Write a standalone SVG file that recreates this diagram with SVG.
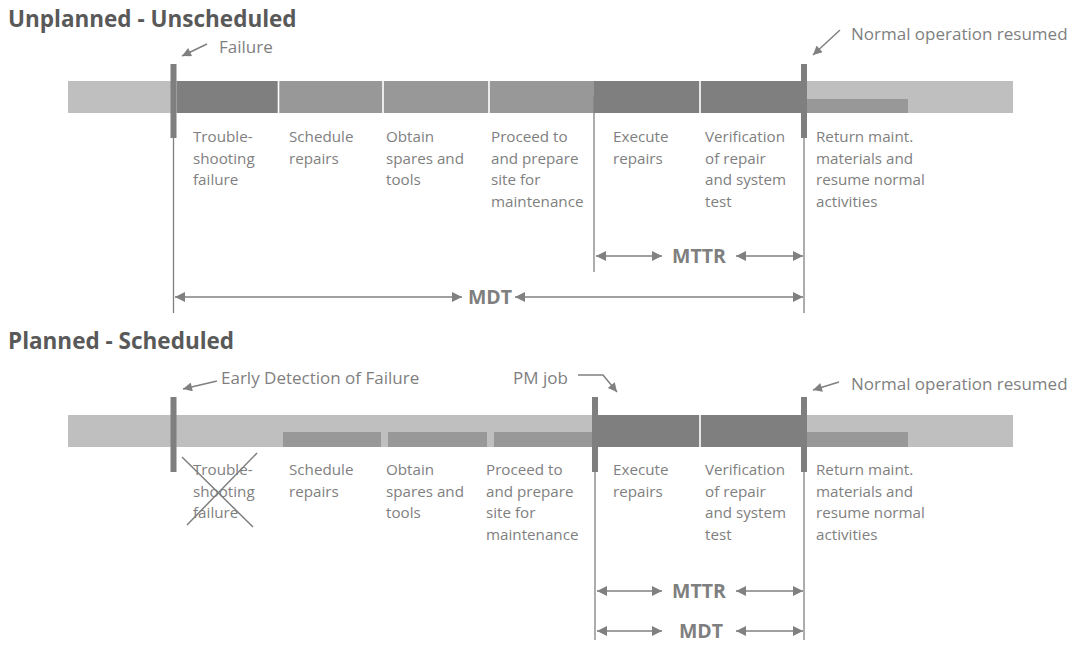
<svg xmlns="http://www.w3.org/2000/svg" width="1070" height="646" viewBox="0 0 1070 646">
  <defs>
    <marker id="head" viewBox="0 0 10 10" refX="10" refY="5" markerUnits="userSpaceOnUse" markerWidth="11" markerHeight="10" orient="auto-start-reverse">
      <path d="M0,0 L10,5 L0,10 z" fill="#808080"/>
    </marker>
    <marker id="pointer" viewBox="0 0 10 10" refX="10" refY="5" markerUnits="userSpaceOnUse" markerWidth="10" markerHeight="9" orient="auto">
      <path d="M0,0 L10,5 L0,10 z" fill="#808080"/>
    </marker>
  </defs>
  <style>
    .title { font-family: "Open Sans", "Liberation Sans", sans-serif; font-weight: bold; font-size: 22.5px; fill: #595959; }
    .lbl { font-family: "Open Sans", "Liberation Sans", sans-serif; font-size: 15.2px; fill: #7f7f7f; }
    .note { font-family: "Open Sans", "Liberation Sans", sans-serif; font-size: 17px; fill: #7f7f7f; }
    .dim { font-family: "Open Sans", "Liberation Sans", sans-serif; font-weight: bold; font-size: 19.5px; fill: #7f7f7f; text-anchor: middle; }
    .base { fill: #bfbfbf; }
    .mid { fill: #989898; }
    .dark { fill: #7f7f7f; }
    .gap { stroke: #ffffff; stroke-width: 1.6; }
    .tick { fill: #7f7f7f; }
    .ext { stroke: #808080; stroke-width: 1.3; fill: none; }
    .dimline { stroke: #808080; stroke-width: 1.5; fill: none; marker-start: url(#head); marker-end: url(#head); }
    .ptr { stroke: #808080; stroke-width: 1.5; fill: none; marker-end: url(#pointer); }
    .cross { stroke: #7f7f7f; stroke-width: 1.5; }
  </style>
  <rect width="1070" height="646" fill="#ffffff"/>

  <!-- ===== Unplanned - Unscheduled ===== -->
  <text class="title" x="8" y="27">Unplanned - Unscheduled</text>

  <g id="u-timeline">
    <rect class="base" x="68" y="81" width="945" height="32"/>
    <rect class="dark" x="177" y="81" width="101" height="32"/>
    <rect class="mid" x="278" y="81" width="316" height="32"/>
    <rect class="dark" x="594" y="81" width="207" height="32"/>
    <rect class="mid" x="807" y="99" width="101" height="14"/>
    <line class="gap" x1="278.5" y1="81" x2="278.5" y2="113"/>
    <line class="gap" x1="383" y1="81" x2="383" y2="113"/>
    <line class="gap" x1="489" y1="81" x2="489" y2="113"/>
    <line class="gap" x1="700" y1="81" x2="700" y2="113"/>
  </g>

  <g id="u-failure">
    <rect class="tick" x="170.5" y="64" width="6" height="74"/>
    <text class="note" x="219" y="53">Failure</text>
  </g>
  <g id="u-resumed">
    <rect class="tick" x="801" y="64" width="6" height="74"/>
    <text class="note" x="851" y="40">Normal operation resumed</text>
  </g>

  <g id="u-troubleshoot"><text class="lbl" x="193" y="142">Trouble-<tspan x="193" dy="21.5">shooting</tspan><tspan x="193" dy="21.5">failure</tspan></text></g>
  <g id="u-schedule"><text class="lbl" x="289" y="142">Schedule<tspan x="289" dy="21.5">repairs</tspan></text></g>
  <g id="u-obtain"><text class="lbl" x="386" y="142">Obtain<tspan x="386" dy="21.5">spares and</tspan><tspan x="386" dy="21.5">tools</tspan></text></g>
  <g id="u-proceed"><text class="lbl" x="491" y="142">Proceed to<tspan x="491" dy="21.5">and prepare</tspan><tspan x="491" dy="21.5">site for</tspan><tspan x="491" dy="21.5">maintenance</tspan></text></g>
  <g id="u-execute"><text class="lbl" x="613" y="142">Execute<tspan x="613" dy="21.5">repairs</tspan></text></g>
  <g id="u-verify"><text class="lbl" x="705" y="142">Verification<tspan x="705" dy="21.5">of repair</tspan><tspan x="705" dy="21.5">and system</tspan><tspan x="705" dy="21.5">test</tspan></text></g>
  <g id="u-return"><text class="lbl" x="816" y="142">Return maint.<tspan x="816" dy="21.5">materials and</tspan><tspan x="816" dy="21.5">resume normal</tspan><tspan x="816" dy="21.5">activities</tspan></text></g>

  <g id="u-mttr"><text class="dim" x="699" y="263">MTTR</text></g>
  <g id="u-mdt"><text class="dim" x="490" y="304">MDT</text></g>

  <g id="u-connectors">
    <line class="ptr" x1="207" y1="44" x2="182" y2="56"/>
    <line class="ptr" x1="840" y1="30" x2="813" y2="55"/>
    <line class="ext" x1="173.5" y1="138" x2="173.5" y2="313"/>
    <line class="ext" x1="594" y1="96" x2="594" y2="272"/>
    <line class="ext" x1="804" y1="138" x2="804" y2="313"/>
    <line class="dimline" x1="596" y1="256" x2="662" y2="256"/>
    <line class="dimline" x1="736" y1="256" x2="803" y2="256"/>
    <line class="dimline" x1="175" y1="297" x2="462" y2="297"/>
    <line class="dimline" x1="515" y1="297" x2="803" y2="297"/>
  </g>

  <!-- ===== Planned - Scheduled ===== -->
  <text class="title" x="8" y="349">Planned - Scheduled</text>

  <g id="p-timeline">
    <rect class="base" x="68" y="415" width="945" height="32"/>
    <rect class="mid" x="283" y="432" width="98" height="15"/>
    <rect class="mid" x="388" y="432" width="99" height="15"/>
    <rect class="mid" x="494" y="432" width="100" height="15"/>
    <rect class="dark" x="595" y="415" width="206" height="32"/>
    <rect class="mid" x="807" y="432" width="101" height="15"/>
    <line class="gap" x1="700" y1="415" x2="700" y2="447"/>
  </g>

  <g id="p-detection">
    <rect class="tick" x="170.5" y="397" width="6" height="75"/>
    <text class="note" x="221" y="384">Early Detection of Failure</text>
  </g>
  <g id="p-pmjob">
    <rect class="tick" x="592" y="397" width="6" height="75"/>
    <text class="note" x="513" y="384">PM job</text>
  </g>
  <g id="p-resumed">
    <rect class="tick" x="801" y="397" width="6" height="75"/>
    <text class="note" x="851" y="390">Normal operation resumed</text>
  </g>

  <g id="p-troubleshoot">
    <text class="lbl" x="193" y="475">Trouble-<tspan x="193" dy="21.5">shooting</tspan><tspan x="193" dy="21.5">failure</tspan></text>
    <line class="cross" x1="182" y1="457" x2="253" y2="527"/>
    <line class="cross" x1="257" y1="453" x2="187" y2="525"/>
  </g>
  <g id="p-schedule"><text class="lbl" x="289" y="475">Schedule<tspan x="289" dy="21.5">repairs</tspan></text></g>
  <g id="p-obtain"><text class="lbl" x="386" y="475">Obtain<tspan x="386" dy="21.5">spares and</tspan><tspan x="386" dy="21.5">tools</tspan></text></g>
  <g id="p-proceed"><text class="lbl" x="486" y="475">Proceed to<tspan x="486" dy="21.5">and prepare</tspan><tspan x="486" dy="21.5">site for</tspan><tspan x="486" dy="21.5">maintenance</tspan></text></g>
  <g id="p-execute"><text class="lbl" x="613" y="475">Execute<tspan x="613" dy="21.5">repairs</tspan></text></g>
  <g id="p-verify"><text class="lbl" x="705" y="475">Verification<tspan x="705" dy="21.5">of repair</tspan><tspan x="705" dy="21.5">and system</tspan><tspan x="705" dy="21.5">test</tspan></text></g>
  <g id="p-return"><text class="lbl" x="816" y="475">Return maint.<tspan x="816" dy="21.5">materials and</tspan><tspan x="816" dy="21.5">resume normal</tspan><tspan x="816" dy="21.5">activities</tspan></text></g>

  <g id="p-mttr"><text class="dim" x="699" y="598">MTTR</text></g>
  <g id="p-mdt"><text class="dim" x="701" y="638">MDT</text></g>

  <g id="p-connectors">
    <line class="ptr" x1="217" y1="381" x2="183" y2="389"/>
    <path class="ptr" d="M578,375 L603,375 L617,392"/>
    <line class="ptr" x1="839" y1="382" x2="813" y2="390"/>
    <line class="ext" x1="595" y1="472" x2="595" y2="640"/>
    <line class="ext" x1="804" y1="472" x2="804" y2="640"/>
    <line class="dimline" x1="597" y1="591" x2="662" y2="591"/>
    <line class="dimline" x1="736" y1="591" x2="803" y2="591"/>
    <line class="dimline" x1="597" y1="631" x2="662" y2="631"/>
    <line class="dimline" x1="736" y1="631" x2="803" y2="631"/>
  </g>
</svg>
